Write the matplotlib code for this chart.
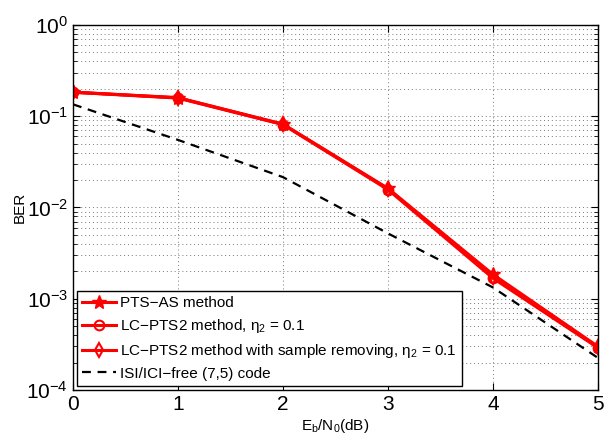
import numpy as np
import matplotlib.pyplot as plt

plt.rcParams["font.family"] = ["Liberation Sans", "DejaVu Sans"]
plt.rcParams["mathtext.fontset"] = "custom"
plt.rcParams["mathtext.rm"] = "Liberation Sans"
plt.rcParams["mathtext.it"] = "Liberation Sans:italic"
plt.rcParams["mathtext.default"] = "regular"

# Data
ebn0 = [0, 1, 2, 3, 4, 5]
ber_pts_as = [0.183, 0.160, 0.082, 0.0162, 0.00185, 3.0e-4]
ber_lc_pts2 = [0.183, 0.158, 0.081, 0.0157, 0.00168, 2.9e-4]
ber_lc_pts2_rm = [0.184, 0.159, 0.0815, 0.0160, 0.00175, 2.95e-4]
ber_free = [0.135, 0.055, 0.0215, 0.0052, 0.00133, 2.25e-4]

labels = [
    "PTS\u2212AS method",
    "LC\u2212PTS2 method, $\\eta_2$ = 0.1",
    "LC\u2212PTS2 method with sample removing, $\\eta_2$ = 0.1",
    "ISI/ICI\u2212free (7,5) code",
]

fig = plt.figure(figsize=(6.04, 4.38), dpi=100)
ax = fig.add_axes([0.1209, 0.1096, 0.869, 0.8334])

red = "#ff0000"
ax.semilogy(ebn0, ber_pts_as, color=red, lw=2.2, marker="*", ms=10,
            mfc=red, mec=red, label=labels[0])
ax.semilogy(ebn0, ber_lc_pts2, color=red, lw=2.2, marker="o", ms=7,
            mfc="none", mec=red, mew=1.5, label=labels[1])
ax.semilogy(ebn0, ber_lc_pts2_rm, color=red, lw=2.2, marker="d", ms=7,
            mfc="none", mec=red, mew=1.5, label=labels[2])
ax.semilogy(ebn0, ber_free, color="black", lw=1.6, ls=(0, (4, 3)),
            label=labels[3])

ax.set_xlim(0, 5)
ax.set_ylim(1e-4, 1)
ax.set_xticks(ebn0)

ax.grid(True, which="major", ls=(0, (1, 3)), color="#777777", lw=0.7)
ax.grid(True, which="minor", axis="y", ls=(0, (1, 3)), color="#777777", lw=0.7)

ax.tick_params(which="both", direction="in", top=True, right=True, labelsize=15)
ax.tick_params(which="major", length=5)
ax.tick_params(which="minor", length=3)
for s in ax.spines.values():
    s.set_linewidth(1.0)

ax.set_xlabel(r"E$_b$/N$_0$(dB)", fontsize=11, labelpad=2)
ax.set_ylabel("BER", fontsize=11, labelpad=0)

leg = ax.legend(loc="lower left", fontsize=11, fancybox=False, framealpha=1,
                edgecolor="black", handlelength=2.2, borderaxespad=0.25,
                labelspacing=0.45, handletextpad=0.3, borderpad=0.35)
leg.get_frame().set_linewidth(1.0)

fig.savefig("out.png", dpi=100)
